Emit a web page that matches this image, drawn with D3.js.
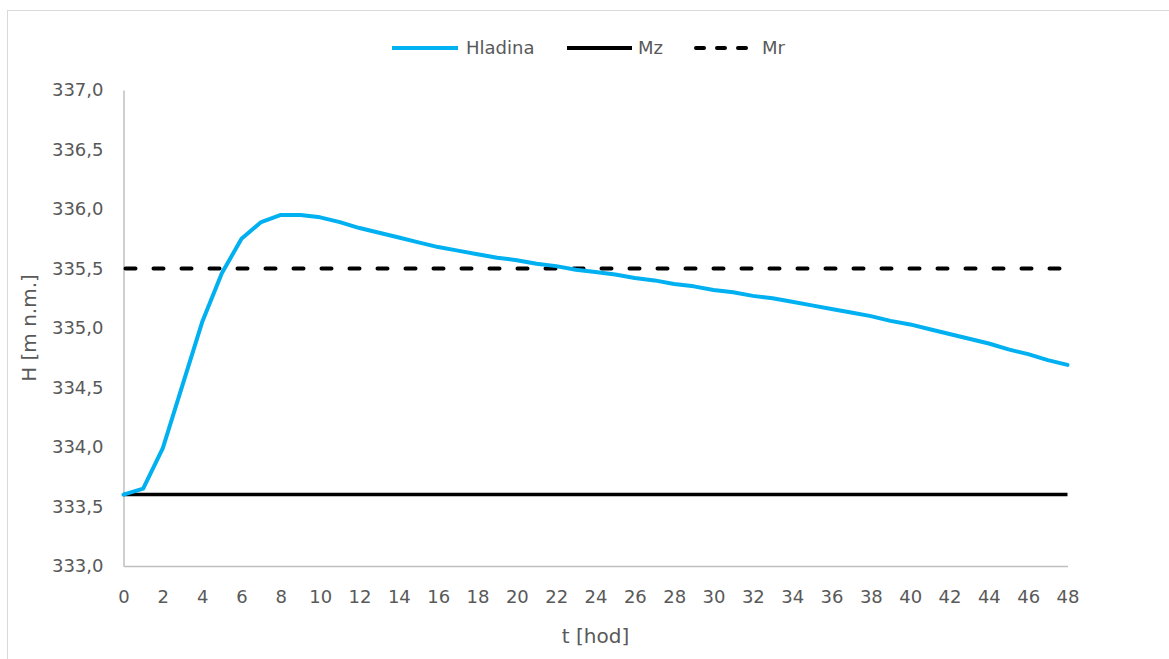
<!DOCTYPE html>
<html><head><meta charset="utf-8">
<script src="https://cdn.jsdelivr.net/npm/d3@7"></script>
<style>html,body{margin:0;padding:0;background:#fff;}svg{display:block;}</style>
</head><body>
<svg id="c" width="1169" height="659"></svg>
<script>
const hours = d3.range(0, 49);
const hladina = [333.60,333.65,333.99,334.52,335.05,335.46,335.75,335.89,335.95,335.95,
 335.93,335.89,335.84,335.80,335.76,335.72,335.68,335.65,335.62,335.59,
 335.57,335.54,335.52,335.49,335.47,335.45,335.42,335.40,335.37,335.35,
 335.32,335.30,335.27,335.25,335.22,335.19,335.16,335.13,335.10,335.06,
 335.03,334.99,334.95,334.91,334.87,334.82,334.78,334.73,334.69];
const mz = 333.6;
const mr = 335.5;
const xTicks = d3.range(0, 49, 2);
const yTicks = [333.0,333.5,334.0,334.5,335.0,335.5,336.0,336.5,337.0];
const seriesNames = ["Hladina","Mz","Mr"];

const svg = d3.select("#c");
const font = "'DejaVu Sans', sans-serif";
const textCol = "#595959";
const blue = "#00B0F0";

svg.append("rect").attr("x",7.5).attr("y",10.5).attr("width",1200).attr("height",700)
  .attr("fill","none").attr("stroke","#d9d9d9").attr("stroke-width",1);

const x = d3.scaleLinear().domain([0,48]).range([123.5,1067.5]);
const y = d3.scaleLinear().domain([333,337]).range([566,90]);

// axes
const yAxis = svg.append("g").attr("transform",`translate(${x(0)},0)`)
  .call(d3.axisLeft(y).tickValues(yTicks).tickSize(0).tickPadding(20)
    .tickFormat(d => d3.format(".1f")(d).replace(".",",")));
yAxis.select(".domain").attr("stroke","#bfbfbf").attr("stroke-width",1.5);
yAxis.selectAll("text").attr("font-family",font).attr("font-size",18).attr("fill",textCol);

const xAxis = svg.append("g").attr("transform",`translate(0,${y(333)})`)
  .call(d3.axisBottom(x).tickValues(xTicks).tickSize(0).tickPadding(24));
xAxis.select(".domain").attr("stroke","#bfbfbf").attr("stroke-width",1.5);
xAxis.selectAll("text").attr("font-family",font).attr("font-size",18).attr("fill",textCol);

// reference lines
svg.append("line").attr("x1",x(0)).attr("x2",x(48)).attr("y1",y(mz)).attr("y2",y(mz))
  .attr("stroke","#000").attr("stroke-width",3.5);
svg.append("line").attr("x1",x(0)+2).attr("x2",x(48)).attr("y1",y(mr)).attr("y2",y(mr))
  .attr("stroke","#000").attr("stroke-width",4).attr("stroke-dasharray","10,18")
  .attr("stroke-linecap","round");

// series
svg.append("path").datum(hladina)
  .attr("d", d3.line().x((d,i)=>x(hours[i])).y(d=>y(d)))
  .attr("fill","none").attr("stroke",blue).attr("stroke-width",4)
  .attr("stroke-linejoin","round").attr("stroke-linecap","round");

// axis titles
svg.append("text").attr("x",(x(0)+x(48))/2).attr("y",643).attr("text-anchor","middle")
  .attr("font-family",font).attr("font-size",20).attr("fill",textCol).text("t [hod]");
svg.append("text").attr("transform",`translate(36,${(y(333)+y(337))/2}) rotate(-90)`)
  .attr("text-anchor","middle").attr("font-family",font).attr("font-size",20)
  .attr("fill",textCol).text("H [m n.m.]");

// legend
const leg = [
  {name:seriesNames[0], x1:392, x2:458, tx:466, stroke:blue, dash:null},
  {name:seriesNames[1], x1:567, x2:632, tx:638, stroke:"#000", dash:null},
  {name:seriesNames[2], x1:696, x2:757, tx:762, stroke:"#000", dash:"10,18"}
];
const lg = svg.append("g");
leg.forEach(l => {
  const ln = lg.append("line").attr("x1",l.x1).attr("x2",l.x2).attr("y1",48).attr("y2",48)
    .attr("stroke",l.stroke).attr("stroke-width",4);
  if (l.dash) ln.attr("stroke-dasharray","8,13").attr("stroke-linecap","round");
  lg.append("text").attr("x",l.tx).attr("y",54).attr("font-family",font).attr("font-size",18)
    .attr("fill",textCol).text(l.name);
});
</script>
</body></html>
